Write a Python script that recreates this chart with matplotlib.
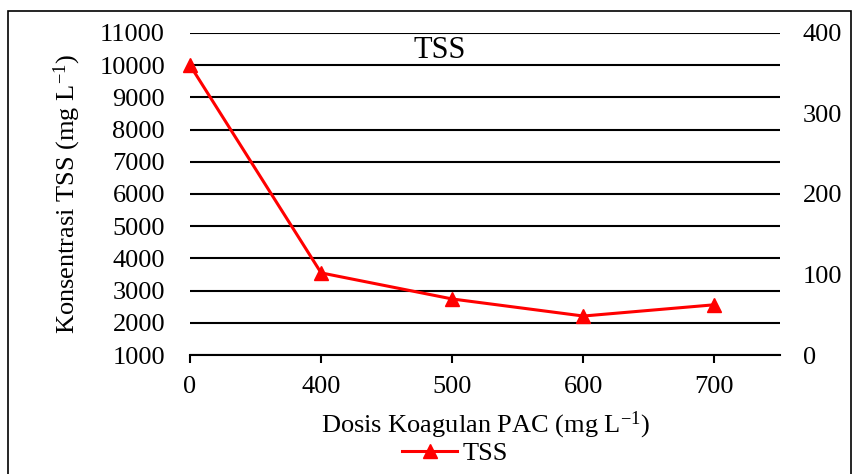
import matplotlib.pyplot as plt
from matplotlib.patches import Rectangle

# data
dosis = ["0", "400", "500", "600", "700"]
tss = [10000, 3550, 2740, 2210, 2560]
left_ticks = list(range(1000, 12000, 1000))
right_ticks = [0, 100, 200, 300, 400]

plt.rcParams['font.family'] = ['Liberation Serif', 'DejaVu Serif']
plt.rcParams['font.size'] = 19
plt.rcParams['mathtext.fontset'] = 'custom'
plt.rcParams['mathtext.rm'] = 'Liberation Serif'

fig = plt.figure(figsize=(8.57, 4.74), dpi=100)
ax = fig.add_axes([190/857, 1 - 355/474, 590/857, 322/474])

x = list(range(len(dosis)))
ax.plot(x, tss, color='red', linewidth=2.2, marker='^', markersize=10, label='TSS',
        clip_on=False, zorder=5)

ax.set_xlim(0, 4.5)
ax.set_ylim(1000, 11000)
ax.set_xticks(x)
ax.set_xticklabels(dosis)
ax.set_yticks(left_ticks)
ax.grid(axis='y', color='black', linewidth=1.5)
ax.set_axisbelow(True)
for s in ['top', 'right', 'left']:
    ax.spines[s].set_visible(False)
ax.spines['bottom'].set_linewidth(1.5)
ax.tick_params(axis='x', direction='out', length=6, width=1.5, pad=9)
ax.tick_params(axis='y', length=0, pad=18)

ax2 = ax.twinx()
ax2.set_ylim(0, 400)
ax2.set_yticks(right_ticks)
for s in ax2.spines.values():
    s.set_visible(False)
ax2.tick_params(axis='y', length=0, pad=16.5)

sup = r"$\mathregular{^{-1}}$"
ax.set_ylabel("Konsentrasi TSS (mg L" + sup + ")", labelpad=12)
fig.text(485/857, 1 - 425/474, "Dosis Koagulan PAC (mg L" + sup + ")", ha='center', va='center')
fig.text(440/857, 1 - 50/474, "TSS", ha='center', va='center', fontsize=22)

leg = fig.legend(loc='center', bbox_to_anchor=(455/857, 1 - 453/474), frameon=False,
                 handlelength=2.1, handletextpad=0.2, borderpad=0)

fig.patches.append(Rectangle((8/857, -0.05), 843/857, 1.05 - 11/474, transform=fig.transFigure,
                             fill=False, edgecolor='black', linewidth=1.2))

fig.savefig("out.png", dpi=100)
